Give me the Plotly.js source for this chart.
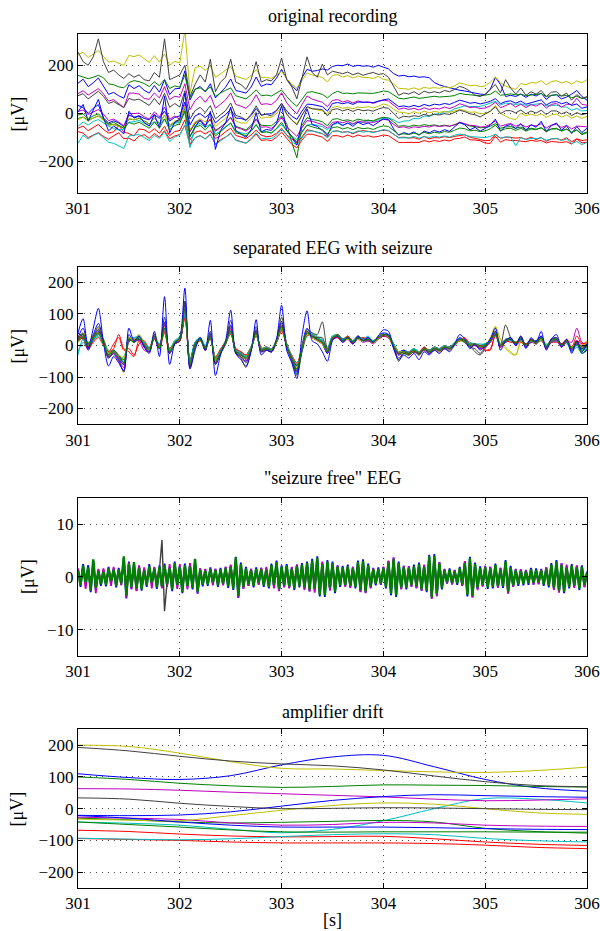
<!DOCTYPE html>
<html>
<head>
<meta charset="utf-8">
<script src="https://cdn.plot.ly/plotly-3.0.1.min.js"></script>
<style>
html,body{margin:0;padding:0;background:#fff;}
#chart{width:600px;height:931px;}
</style>
</head>
<body>
<div id="chart"></div>
<script>
// ---- sampling (start time and sample steps, seconds) ----
const T0 = 301;
const DT_EEG = 0.05;
const DT_FREE = 0.025;
const DT_DRIFT = 0.5;
const xTicks = [301, 302, 303, 304, 305, 306];

const chanNames = ['ch1','ch2','ch3','ch4','ch5','ch6','ch7','ch8','ch9','ch10','ch11','ch12','ch13','ch14','ch15','ch16'];

// ---- panel 1: original recording [µV] ----
const orig01 = [125,142,111,127,147,113,79,87,73,63, 119,103,115,96,84,116,88,139,78,102, 104,177,55,99,112,89,123,64,87,109, 143,95,90,84,109,151,112,122,119,147, 183,143,116,94,148,183,175,178,185,180, 195,200,198,205,195,200,196,198,192,200, 192,185,165,155,158,152,155,150,152,148, 128,118,112,106,100,96,93,90,84,80, 78,100,150,120,70,75,70,80,66,80, 72,84,58,75,77,60,68,80,95,70, 55];
const orig02 = [158,151,144,150,158,148,123,119,110,106, 128,136,132,124,111,131,115,141,103,114, 109,159,65,101,106,93,110,70,85,96, 106,73,66,60,77,98,73,76,72,84, 97,70,47,29,56,87,90,84,79,64, 82,92,83,84,81,85,85,83,83,87, 93,90,78,63,60,63,68,62,65,65, 71,68,68,71,74,83,79,76,73,73, 76,79,93,75,78,81,77,80,73,76, 79,82,70,75,78,72,75,65,71,62, 65];
const orig03 = [-62,-53,-72,-60,-46,-67,-82,-77,-50,-78, -84,-94,-65,-68,-81,-64,-83,-54,-93,-76, -71,-27,-111,-79,-73,-86,-72,-105,-94,-76, -62,-92,-99,-105,-90,-70,-91,-97,-95,-83, -62,-89,-107,-122,-98,-68,-73,-79,-85,-97, -76,-73,-79,-76,-85,-76,-72,-75,-78,-75, -69,-73,-86,-101,-99,-103,-101,-108,-96,-106, -101,-102,-97,-101,-96,-91,-89,-99,-103,-107, -114,-112,-88,-104,-99,-100,-103,-101,-108,-99, -109,-100,-116,-107,-105,-111,-102,-118,-106,-113, -110];
const orig04 = [-54,-36,-49,-34,-26,-41,-53,-63,-69,-67, -37,-35,-29,-42,-51,-34,-47,-23,-57,-42, -37,4,-142,-50,-42,-58,-45,-85,-74,-55, -41,-75,-82,-86,-72,-49,-78,-76,-83,-63, -46,-72,-95,-109,-75,-49,-45,-50,-55,-69, -47,-41,-48,-42,-45,-37,-37,-28,-34,-26, -20,-19,-27,-39,-32,-31,-21,-23,-11,-13, -3,-3,6,7,19,25,31,28,29,29, 35,41,50,34,43,40,37,40,33,36, 39,41,31,32,34,27,26,13,20,10, 12];
const orig05 = [82,94,76,91,103,81,51,57,42,24, 84,84,80,62,58,85,64,111,57,71, 67,123,15,53,71,46,75,21,38,56, 85,37,30,21,41,77,37,40,36,54, 86,44,19,-2,36,72,59,53,46,28, 54,57,47,53,43,52,45,48,41,50, 55,51,33,17,22,16,21,14,23,16, 21,18,26,20,28,40,33,24,26,20, 22,31,46,23,32,41,26,38,24,36, 30,42,22,37,41,26,38,36,63,37, 34];
const orig06 = [245,254,232,247,261,237,213,218,209,199, 241,236,243,226,212,240,213,247,200,216, 210,345,85,190,196,179,197,149,164,180, 195,154,149,141,157,182,149,150,145,161, 175,145,121,105,138,168,159,156,149,131, 158,161,151,157,147,156,149,149,145,154, 141,138,122,104,103,100,106,99,108,104, 107,104,110,106,115,127,121,115,117,111, 114,130,151,128,113,105,100,124,119,128, 126,136,119,132,136,126,133,122,135,127, 140];
const orig07 = [255,215,200,235,310,215,170,180,160,145, 165,150,160,140,135,170,150,310,140,150, 160,200,70,120,160,130,225,90,130,150, 225,130,120,100,140,215,130,140,135,160, 230,140,110,60,150,235,170,150,205,160, 175,170,165,172,160,168,158,165,170,162, 165,150,115,75,85,80,90,78,92,85, 90,85,95,90,100,112,105,92,75,70, 80,100,120,85,140,105,80,105,75,90, 80,95,70,88,90,72,84,55,78,62, 70];
const orig08 = [33,24,0,21,36,-19,-40,-31,-40,-55, -7,-16,-10,-21,-27,-6,-21,9,-32,-17, -11,47,-48,-11,-1,-18,1,-40,-21,-5, 17,-20,-21,-29,-9,20,-8,-3,-2,12, 41,10,-12,-25,9,38,37,33,28,9, 41,45,40,45,37,47,45,46,45,52, 56,60,42,28,31,26,33,27,37,31, 38,35,41,37,46,55,49,42,45,39, 44,50,61,40,49,52,42,51,38,44, 47,56,35,46,49,40,46,33,39,21, 27];
const orig09 = [-21,-16,-28,-20,-11,-27,-48,-46,-52,-62, -23,-27,-21,-31,-44,-21,-42,-7,-50,-38, -30,21,-76,-43,-31,-50,-26,-71,-57,-39, -18,-54,-60,-69,-50,-23,-50,-50,-52,-34, -10,-43,-120,-185,-51,-18,-26,-29,-35,-52, -25,-22,-30,-27,-33,-24,-29,-29,-31,-22, -16,-20,-35,-54,-51,-55,-49,-53,-47,-51, -48,-53,-49,-54,-47,-40,-45,-53,-55,-60, -59,-54,-43,-62,-57,-55,-62,-57,-67,-62, -66,-61,-73,-65,-65,-72,-66,-79,-70,-86, -77];
const orig10 = [-76,-82,-101,-89,-80,-96,-108,-93,-81,-106, -103,-115,-95,-89,-104,-84,-99,-72,-106,-94, -88,-50,-128,-102,-93,-106,-88,-128,-110,-99, -84,-111,-118,-124,-109,-86,-113,-110,-114,-99, -78,-105,-129,-144,-111,-87,-87,-93,-99,-117, -93,-93,-99,-90,-99,-90,-96,-93,-99,-96, -90,-93,-108,-121,-121,-121,-118,-121,-113,-119, -113,-117,-111,-115,-106,-104,-98,-110,-111,-114, -124,-125,-95,-120,-109,-113,-113,-114,-118,-112, -116,-113,-123,-117,-118,-121,-118,-128,-107,-123, -120];
const orig11 = [-125,-91,-107,-92,-83,-102,-120,-125,-135,-146, -94,-91,-88,-101,-113,-92,-104,-77,-117,-99, -90,-48,-137,-101,-92,-107,-85,-130,-115,-99, -81,-113,-119,-124,-105,-81,-107,-103,-105,-90, -65,-94,-118,-132,-105,-74,-73,-79,-84,-102, -74,-74,-79,-76,-82,-73,-78,-75,-80,-74, -68,-71,-86,-102,-102,-102,-96,-103,-97,-100, -95,-99,-94,-99,-91,-86,-90,-97,-98,-100, -101,-96,-87,-103,-98,-99,-135,-100,-110,-104, -105,-102,-112,-106,-104,-113,-107,-126,-117,-130, -121];
const orig12 = [8,14,-5,7,16,-3,-30,-24,-36,-52, -1,-1,1,-14,-24,6,-15,26,-25,-11, -25,34,-75,-37,-26,-49,-23,-75,-58,-41, -15,-58,-64,-74,-57,-25,-58,-56,-63,-45, -16,-55,-76,-96,-60,-30,-33,-39,-47,-62, -38,-34,-39,-33,-44,-32,-37,-36,-38,-32, -25,-28,-46,-59,-56,-62,-56,-59,-54,-57, -51,-55,-52,-53,-48,-37,-43,-50,-51,-57, -55,-46,-32,-53,-47,-42,-54,-45,-57,-49, -52,-43,-61,-49,-46,-59,-50,-65,-53,-56, -56];
const orig13 = [-27,-15,-34,-19,-10,-29,-50,-47,-53,-60, -21,-27,-18,-34,-46,-19,-40,-7,-50,-32, -26,30,-68,-36,-23,-36,-13,-54,-37,-21, 5,-32,-40,-41,-21,7,-21,-16,-17,-1, 28,-4,-29,-43,-5,24,19,15,10,-3, 25,29,21,24,19,26,24,28,22,29, 39,33,17,5,4,-2,7,0,9,2, 8,4,8,4,11,16,12,4,6,-2, 0,8,33,-1,-11,-22,-26,0,-10,-3, -10,-2,-17,-6,-3,-16,-7,-20,-11,-21, -12];
const orig14 = [73,82,60,78,92,71,41,49,37,24, 62,55,59,46,33,62,36,83,25,41, 26,94,-24,11,25,3,32,-23,-6,11, 43,-9,-15,-28,-5,31,-6,-4,-11,10, 42,-3,-27,-48,-9,28,19,16,16,-11, 16,19,10,17,8,17,11,14,9,18, 24,21,0,-21,-12,-15,-10,-13,-4,-10, -4,-7,-1,-5,4,13,7,-2,-6,-15, -3,9,27,-1,11,11,2,14,-2,10, 1,13,-5,10,10,-2,6,-9,3,-6, 0];
const orig15 = [6,37,-31,15,58,-19,-73,-53,-67,-85, 9,-20,-11,-38,-53,-4,-62,71,-82,-37, -24,84,-97,-56,-28,-58,8,-150,-71,-40, 26,-71,-85,-100,-68,2,-77,-67,-71,-43, 32,-69,-97,-132,-37,19,-47,-54,-72,-93, -47,-37,-51,-40,-54,-37,-47,-40,-51,-37, -23,-26,-65,-91,-80,-87,-77,-91,-74,-81, -71,-78,-68,-75,-57,-37,-48,-69,-58,-74, -63,-49,-24,-74,-53,-46,-64,-43,-72,-47, -58,-33,-76,-51,-40,-70,-52,-84,-55,-80, -62];
const orig16 = [-7,-2,-24,-10,-2,-23,-45,-37,-50,-62, -38,-45,-37,-49,-62,-36,-61,-23,-68,-51, -43,10,-96,-58,-50,-69,-48,-94,-77,-60, -40,-80,-86,-93,-75,-46,-80,-77,-81,-63, -37,-73,-97,-118,-79,-49,-56,-62,-68,-86, -59,-56,-65,-59,-68,-59,-64,-61,-67,-58, -52,-55,-73,-88,-85,-88,-82,-88,-79,-85, -79,-82,-76,-79,-70,-61,-64,-73,-70,-76, -73,-64,-49,-73,-64,-62,-71,-62,-74,-65, -68,-59,-77,-65,-62,-74,-65,-80,-68,-89, -80];

// ---- panel 2: separated EEG with seizure [µV] ----
const sep01 = [25,55,5,35,70,15,-40,-25,-45,-60, 35,10,30,0,-20,35,-10,75,-25,15, 20,140,-65,5,25,-15,40,-60,-25,10, 65,-20,-35,-50,-15,50,-20,-10,-20,20, 75,5,-45,-85,0,55,25,20,5,-25, 30,30,20,30,15,30,20,25,10,30, 40,35,-5,-30,-25,-30,-20,-30,-15,-25, -15,-20,-10,-15,5,25,15,0,5,-5, 0,20,45,-5,15,25,5,25,-5,20, 10,30,-10,20,25,0,15,-15,15,-10, 0];
const sep02 = [30,20,10,20,35,20,-20,-25,-40,-45, 10,25,20,10,-10,25,0,45,-15,5, 15,100,-55,5,15,-5,25,-40,-15,5, 40,-15,-25,-35,-5,30,-10,-5,-10,10, 50,5,-35,-65,-20,30,35,25,15,-10, 20,35,20,20,15,20,20,15,15,20, 30,25,5,-20,-25,-20,-10,-20,-15,-15, -5,-10,-10,-5,0,15,10,5,0,0, 5,10,35,5,10,15,10,15,5,10, 15,20,0,10,15,5,10,-5,5,-10, -5];
const sep03 = [10,25,-5,15,40,5,-20,-10,35,-10, -20,-35,15,10,-10,20,-10,40,-25,5, 15,90,-50,5,15,-5,20,-35,-15,15, 40,-10,-20,-30,-5,30,-5,-15,-10,10, 45,0,-30,-55,-15,35,25,15,5,-15, 20,25,15,20,5,20,25,20,15,20, 30,25,5,-20,-15,-20,-15,-25,-5,-20, -10,-10,0,-5,5,15,20,5,0,-5, -15,-10,30,5,15,15,10,15,5,20, 5,20,-5,10,15,5,20,-5,15,5, 10];
const sep04 = [-20,10,-10,15,30,5,-15,-30,-40,-35, 15,20,30,10,-5,25,5,45,-10,15, 25,95,-45,10,25,0,25,-40,-20,15, 40,-15,-25,-30,-5,35,-10,-5,-15,20, 50,5,-35,-60,-5,35,40,30,20,-5, 30,35,20,25,15,25,20,30,15,25, 30,25,5,-20,-15,-20,-10,-20,-5,-15, -5,-10,0,-5,10,15,20,10,5,0, 5,15,30,5,20,15,10,15,5,10, 15,20,5,10,15,5,5,-15,0,-15, -10];
const sep05 = [15,35,5,30,50,15,-35,-25,-50,-80, 20,20,15,-15,-20,25,-10,70,-20,5, 15,110,-70,-5,25,-15,35,-55,-25,5, 55,-25,-35,-50,-15,45,-20,-15,-20,10, 65,-5,-45,-80,-15,45,25,15,5,-25, 20,25,10,20,5,20,10,15,5,20, 30,25,-5,-30,-20,-30,-20,-30,-15,-25, -15,-20,-5,-15,0,20,10,-5,0,-10, -5,10,35,-5,10,25,0,20,-5,15, 5,25,-10,15,20,-5,15,10,55,10, 5];
const sep06 = [25,40,5,30,55,15,-25,-15,-30,-45, 25,20,35,10,-10,40,0,60,-15,15, 25,115,-55,5,20,-5,30,-45,-15,15, 45,-20,-25,-35,-5,40,-10,-5,-10,20, 55,5,-35,-60,-5,45,30,25,15,-15, 30,35,20,30,15,30,20,20,15,30, 35,30,5,-25,-25,-30,-20,-30,-15,-20, -15,-20,-10,-15,0,20,10,0,5,-5, 0,25,60,20,-5,-20,-30,10,0,15, 10,25,-5,15,20,0,10,-10,10,-5, 15];
const sep07 = [20,40,0,30,60,10,-40,-25,-45,-85, 25,15,20,0,-20,30,-10,90,-25,10, 20,140,-70,-5,20,-15,45,-60,-25,10, 80,-25,-40,-70,-15,60,-20,-15,-20,15, 90,0,-50,-95,-20,50,40,35,75,-10, 25,35,20,25,10,25,15,20,10,25, 35,30,-5,-50,-25,-30,-15,-30,-10,-25, -10,-15,-5,-10,5,20,15,0,-20,-30, -10,20,40,0,65,25,5,30,0,20, 10,25,-5,20,25,0,15,-20,10,-10, 5];
const sep08 = [40,25,-15,20,45,5,-30,-15,-30,-55, 25,10,20,0,-10,25,0,50,-20,5, 15,110,-50,10,25,-5,25,-45,-15,10, 45,-20,-25,-40,-10,35,-15,-10,-10,10, 55,0,-40,-65,-10,35,30,20,10,-25, 25,30,20,25,10,25,20,20,15,25, 30,35,5,-20,-15,-25,-15,-25,-10,-20, -10,-15,-5,-10,5,20,10,0,5,-5, 5,15,35,0,15,20,5,20,0,10, 15,30,-5,15,20,5,15,-5,5,-25, -15];
const sep09 = [15,25,5,20,35,10,-25,-20,-30,-45, 20,15,25,10,-10,30,-5,55,-15,5, 20,105,-55,0,20,-10,30,-45,-20,10, 45,-15,-25,-40,-10,35,-10,-10,-15,15, 55,0,-40,-90,-15,40,25,20,10,-20, 25,30,15,20,10,25,15,15,10,25, 35,30,5,-25,-20,-25,-15,-20,-10,-15, -10,-15,-5,-10,5,20,15,5,5,0, 5,15,35,5,15,20,10,20,5,15, 10,20,0,15,15,5,15,-5,10,-15, 0];
const sep10 = [30,20,-10,10,25,0,-20,5,25,-15, -10,-30,5,15,-10,25,0,45,-10,10, 20,85,-45,0,15,-5,25,-40,-10,10, 35,-10,-20,-30,-5,35,-10,-5,-10,15, 50,5,-35,-60,-5,35,35,25,15,-15, 25,25,15,30,15,30,20,25,15,20, 30,25,0,-20,-20,-20,-15,-20,-5,-15, -5,-10,0,-5,10,15,25,5,5,0, -15,-15,35,-5,15,10,10,10,5,15, 10,15,0,10,10,5,10,-5,30,5, 10];
const sep11 = [-30,20,-5,20,35,5,-25,-25,-40,-50, 20,25,30,10,-10,25,5,50,-15,15, 30,100,-50,10,25,0,35,-40,-15,10, 40,-15,-25,-35,-5,35,-10,-5,-10,15, 55,5,-35,-60,-15,35,35,25,15,-15, 30,30,20,25,15,30,20,25,15,25, 35,30,5,-20,-20,-20,-10,-20,-10,-15, -5,-10,0,-5,10,20,15,5,5,5, 5,15,30,5,15,15,5,15,0,10, 10,15,0,10,15,0,10,-20,-5,-25, -10];
const sep12 = [25,35,5,25,40,10,-35,-25,-45,-70, 15,15,20,-5,-20,30,-5,65,-20,5, 15,115,-65,0,20,-15,30,-55,-25,5, 50,-20,-30,-45,-15,40,-15,-10,-20,10, 60,-5,-40,-75,-15,35,30,20,5,-20, 20,25,15,25,5,25,15,15,10,20, 30,25,-5,-25,-20,-30,-20,-25,-15,-20, -10,-15,-10,-10,0,20,10,0,0,-10, -5,10,35,0,10,20,0,15,-5,10, 5,20,-10,10,15,-5,10,-15,5,0, 0];
const sep13 = [10,30,0,25,40,10,-25,-20,-30,-40, 25,15,30,5,-15,30,-5,50,-20,10, 20,110,-55,-5,15,-10,25,-45,-20,5, 45,-20,-35,-40,-10,35,-15,-10,-15,10, 55,0,-45,-70,-10,35,25,15,5,-20, 25,30,15,20,10,20,15,20,10,20, 35,25,0,-20,-20,-30,-15,-25,-10,-20, -10,-15,-5,-10,5,15,10,0,5,-5, 0,15,60,5,-10,-25,-30,15,0,15, 5,20,-5,15,20,0,15,-5,10,-5, 10];
const sep14 = [15,30,-5,25,50,15,-35,-20,-40,-60, 20,10,20,0,-20,30,-10,70,-25,5, 15,130,-65,-5,20,-15,35,-55,-25,5, 60,-25,-35,-55,-15,45,-15,-10,-20,15, 70,-5,-45,-80,-15,45,30,25,25,-20, 25,30,15,25,10,25,15,20,10,25, 35,30,-5,-40,-25,-30,-20,-25,-10,-20, -10,-15,-5,-10,5,20,10,-5,-10,-25, -5,15,45,0,20,20,5,25,0,20, 5,25,-5,20,20,0,15,-10,10,-5, 5];
const sep15 = [40,85,-10,55,118,10,-65,-35,-55,-80, 55,15,30,-5,-25,45,-35,155,-60,5, 25,182,-75,-15,25,-15,80,-95,-30,15, 112,-25,-45,-65,-20,82,-30,-15,-20,20, 128,-15,-55,-105,30,110,15,5,-20,-50, 15,30,10,25,5,30,15,25,10,30, 50,45,-10,-45,-30,-40,-25,-45,-20,-30, -15,-25,-10,-20,5,35,20,-10,5,-15, 0,20,55,-15,15,25,0,30,-10,25, 10,45,-15,20,35,-5,20,-25,15,-20, 5];
const sep16 = [25,35,0,25,40,5,-30,-15,-35,-55, 20,10,25,5,-15,30,-10,55,-20,10, 25,115,-60,5,20,-10,25,-50,-20,10, 45,-20,-30,-40,-10,40,-15,-10,-15,15, 60,0,-40,-75,-10,40,30,20,10,-20, 25,30,15,25,10,25,15,20,10,25, 35,30,0,-25,-20,-25,-15,-25,-10,-20, -10,-15,-5,-10,5,20,15,0,5,-5, 0,15,40,0,15,20,5,20,0,15, 10,25,-5,15,20,0,15,-10,10,-25, -10];

// ---- panel 3: "seizure free" EEG [µV] (channels drawn: 1, 5, 7, 16) ----
const free01 = [1.5,-1.9,2.4,-1.4,2.2,-2.9,3.0,-2.5, 1.3,-1.7,1.2,-1.8,1.9,-1.1,1.6,-2.0, 1.7,-1.5,3.6,-4.1,2.9,-2.3,2.5,-2.6, 2.1,-2.6,1.5,-1.9,2.4,-1.4,1.8,-2.3, 2.2,-2.1,2.5,-1.6,1.9,-2.7,2.9,-1.8, 2.1,-3.1,2.5,-2.0,2.3,-2.4,3.0,-3.2, 1.6,-1.8,1.4,-1.7,1.8,-1.3,1.5,-1.9, 1.7,-1.5,1.9,-2.1,2.2,-2.5,3.8,-4.0, 2.7,-2.2,1.9,-1.7,1.5,-2.0,1.8,-1.4, 1.7,-1.9,1.6,-2.2,2.5,-1.8,3.1,-2.6, 2.2,-1.9,2.4,-2.1,1.8,-2.5,2.3,-2.0, 2.6,-2.3,2.9,-2.7,3.4,-2.5,3.9,-3.7, 2.7,-3.8,3.2,-2.4,2.9,-3.1,2.2,-1.9, 2.1,-1.8,2.3,-2.0,1.9,-2.2,3.1,-2.8, 3.3,-3.0,2.5,-2.1,1.7,-1.6,1.8,-1.5, 1.9,-2.2,3.0,-3.5,3.6,-3.8,2.9,-2.3, 2.1,-2.4,2.0,-1.8,2.3,-2.1,2.7,-2.6, 2.2,-2.9,4.2,-4.1,4.3,-3.5,2.8,-2.4, 1.5,-1.3,1.6,-1.4,1.3,-1.5,1.9,-1.7, 2.9,-3.7,3.8,-3.9,2.7,-2.3,2.0,-1.8, 2.1,-2.3,1.9,-2.2,2.5,-2.0,1.7,-2.1, 3.2,-3.1,2.1,-1.9,1.5,-1.7,1.4,-1.6, 1.3,-1.5,1.7,-1.4,1.6,-1.3,1.5,-1.7, 1.8,-2.0,2.6,-2.4,3.2,-2.9,2.5,-3.1, 2.0,-2.2,2.4,-1.9,2.1,-2.5,2.2,-1.8, 1.0];
const free05 = [1.6,-1.3,1.9,-2.3,1.4,-2.0,2.8,-3.1, 1.5,-1.2,1.6,-1.0,1.2,-1.7,1.9,-1.1, 1.3,-1.6,3.2,-3.9,2.7,-2.4,2.0,-2.7, 2.2,-1.5,1.8,-1.3,1.6,-2.2,1.9,-1.4, 1.5,-2.2,1.8,-1.9,2.4,-1.6,2.0,-2.3, 2.4,-2.2,1.9,-2.4,2.6,-1.8,2.9,-3.1, 1.6,-1.2,1.5,-1.1,1.3,-1.6,1.5,-1.2, 1.1,-1.6,1.9,-1.4,2.3,-1.9,3.2,-3.9, 2.0,-2.3,1.3,-1.7,1.5,-1.2,1.3,-1.5, 1.7,-1.3,1.9,-1.5,1.7,-2.2,2.4,-2.7, 1.6,-2.0,1.7,-2.2,1.9,-1.8,2.3,-1.5, 2.0,-2.5,2.2,-2.8,2.6,-3.0,3.3,-3.0, 2.9,-3.0,2.4,-2.6,2.2,-2.3,2.1,-1.4, 1.5,-1.9,1.7,-2.1,1.9,-1.5,2.5,-2.9, 2.7,-3.1,1.9,-2.2,1.6,-1.1,1.3,-1.4, 1.9,-1.5,3.1,-2.8,3.7,-3.1,2.2,-2.4, 2.1,-1.7,2.0,-1.9,1.6,-2.2,2.0,-2.6, 2.3,-2.0,3.4,-4.2,3.6,-3.7,2.8,-1.8, 1.4,-1.2,1.0,-1.4,1.2,-1.0,1.3,-1.7, 3.0,-2.8,3.2,-3.9,2.0,-2.5,1.5,-1.8, 2.0,-1.7,1.9,-1.6,1.8,-2.1,1.7,-1.5, 2.5,-3.2,1.5,-1.9,1.4,-1.1,1.4,-1.0, 1.2,-1.0,1.1,-1.5,1.0,-1.4,1.4,-1.1, 1.8,-1.4,2.0,-2.5,2.5,-3.0,2.6,-2.3, 2.3,-1.5,1.8,-2.1,2.2,-1.6,1.6,-2.0, 0.5];
const free07 = [1.0,-1.2,1.5,-0.9,1.3,-1.8,2.2,-1.6, 0.9,-1.1,0.8,-1.2,1.2,-0.7,1.0,-1.3, 1.1,-0.9,2.8,-2.6,1.9,-1.4,2.0,-1.6, 1.3,-1.8,0.9,-1.2,1.5,-0.9,1.1,-1.5, 1.4,7.0,-6.5,-1.0,1.2,-1.8,1.9,-1.1, 1.3,-2.1,1.6,-1.3,1.5,-1.6,2.5,-2.1, 1.0,-1.1,0.8,-1.1,1.1,-0.8,0.9,-1.2, 1.0,-0.9,1.2,-1.3,1.4,-1.6,2.7,-2.6, 1.8,-1.4,1.2,-1.0,0.9,-1.3,1.1,-0.8, 1.0,-1.2,1.0,-1.4,1.6,-1.1,2.1,-1.7, 1.4,-1.2,1.6,-1.3,1.1,-1.6,1.5,-1.3, 1.7,-1.5,1.9,-1.8,2.3,-1.6,2.6,-2.5, 1.8,-2.6,2.1,-1.5,1.9,-2.1,1.4,-1.2, 1.3,-1.1,1.5,-1.3,1.2,-1.4,2.1,-1.9, 2.2,-2.0,1.6,-1.3,1.0,-1.0,1.1,-0.9, 1.2,-1.4,2.0,-2.4,2.5,-2.6,1.9,-1.5, 1.3,-1.6,1.3,-1.1,1.5,-1.3,1.8,-1.7, 1.4,-1.9,2.9,-2.8,3.0,-2.4,1.8,-1.6, 0.9,-0.8,1.0,-0.8,0.8,-0.9,1.2,-1.0, 1.9,-2.5,2.6,-2.7,1.8,-1.5,1.3,-1.1, 1.3,-1.5,1.2,-1.4,1.6,-1.3,1.0,-1.3, 2.1,-2.0,1.3,-1.2,0.9,-1.0,0.8,-1.0, 0.8,-0.9,1.0,-0.8,1.0,-0.8,0.9,-1.0, 1.1,-1.3,1.7,-1.6,2.1,-1.9,1.6,-2.1, 1.3,-1.4,1.6,-1.2,1.3,-1.6,1.4,-1.1, 0.6];
const free16 = [1.2,-1.6,2.1,-1.0,1.8,-2.6,3.3,-2.1, 1.1,-1.4,0.9,-1.5,1.6,-0.8,1.3,-1.7, 1.4,-1.2,3.9,-3.5,2.5,-1.9,2.8,-2.2, 1.7,-2.3,1.2,-1.6,2.0,-1.1,1.5,-2.0, 1.9,-1.8,2.2,-1.3,1.6,-2.4,2.6,-1.5, 1.8,-2.9,2.2,-1.7,2.0,-2.1,3.4,-2.8, 1.3,-1.5,1.1,-1.4,1.5,-1.0,1.2,-1.6, 1.4,-1.2,1.6,-1.8,1.9,-2.2,3.7,-3.6, 2.4,-1.9,1.6,-1.4,1.2,-1.7,1.5,-1.1, 1.4,-1.6,1.3,-1.9,2.2,-1.5,2.8,-2.3, 1.9,-1.6,2.1,-1.8,1.5,-2.2,2.0,-1.7, 2.3,-2.0,2.6,-2.4,3.1,-2.2,3.6,-3.4, 2.4,-3.5,2.9,-2.1,2.6,-2.8,1.9,-1.6, 1.8,-1.5,2.0,-1.7,1.6,-1.9,2.8,-2.5, 3.0,-2.7,2.2,-1.8,1.4,-1.3,1.5,-1.2, 1.6,-1.9,2.7,-3.2,3.3,-3.5,2.6,-2.0, 1.8,-2.1,1.7,-1.5,2.0,-1.8,2.4,-2.3, 1.9,-2.6,3.9,-3.8,4.0,-3.2,2.5,-2.1, 1.2,-1.0,1.3,-1.1,1.0,-1.2,1.6,-1.4, 2.6,-3.4,3.5,-3.6,2.4,-2.0,1.7,-1.5, 1.8,-2.0,1.6,-1.9,2.2,-1.7,1.4,-1.8, 2.9,-2.8,1.8,-1.6,1.2,-1.4,1.1,-1.3, 1.0,-1.2,1.4,-1.1,1.3,-1.0,1.2,-1.4, 1.5,-1.7,2.3,-2.1,2.9,-2.6,2.2,-2.8, 1.7,-1.9,2.1,-1.6,1.8,-2.2,1.9,-1.5, 0.8];

// ---- panel 4: amplifier drift [µV], one value every 0.5 s ----
const drift01 = [110,98,92,104,138,163,168,132,92,66,55];
const drift02 = [100,92,80,72,67,70,75,74,73,70,68];
const drift03 = [-68,-72,-80,-86,-89,-88,-87,-95,-105,-112,-116];
const drift04 = [-42,-46,-52,-65,-76,-65,-38,0,32,30,18];
const drift05 = [63,62,58,52,47,42,37,30,25,27,31];
const drift06 = [200,196,175,148,127,125,120,116,114,120,131];
const drift07 = [193,182,165,150,141,135,122,103,85,73,69];
const drift08 = [-21,-22,-20,-10,8,26,38,44,41,38,36];
const drift09 = [-30,-35,-42,-45,-43,-40,-37,-42,-62,-72,-77];
const drift10 = [-94,-97,-100,-105,-108,-108,-108,-110,-115,-122,-126];
const drift11 = [-93,-96,-98,-95,-88,-82,-79,-82,-94,-101,-105];
const drift12 = [-27,-30,-34,-45,-52,-50,-43,-45,-52,-55,-56];
const drift13 = [-33,-36,-38,-22,-5,10,18,14,0,-13,-18];
const drift14 = [34,30,17,7,0,1,3,2,0,-2,-3];
const drift15 = [-22,-30,-42,-52,-58,-58,-58,-60,-63,-65,-66];
const drift16 = [-42,-50,-58,-67,-73,-74,-73,-73,-73,-74,-74];

// ---- styles ----
const cB='#0000ff', cG='#008000', cR='#ff0000', cC='#00bfbf', cM='#bf00bf', cY='#bfbf00', cK='#404040';
const chanColors = [cB,cG,cR,cC,cM,cY,cK,cB,cG,cR,cC,cM,cY,cK,cB,cG];
const FONT = '"Liberation Serif", "DejaVu Serif", "Times New Roman", serif';

const origSet = [orig01,orig02,orig03,orig04,orig05,orig06,orig07,orig08,orig09,orig10,orig11,orig12,orig13,orig14,orig15,orig16];
const sepSet = [sep01,sep02,sep03,sep04,sep05,sep06,sep07,sep08,sep09,sep10,sep11,sep12,sep13,sep14,sep15,sep16];
const driftSet = [drift01,drift02,drift03,drift04,drift05,drift06,drift07,drift08,drift09,drift10,drift11,drift12,drift13,drift14,drift15,drift16];
const freeSet = [[0, free01, 1.8],[4, free05, 1.8],[6, free07, 1.4],[15, free16, 2.4]];

const traces = [];
origSet.forEach((y, k) => traces.push({type:'scatter', mode:'lines', name:chanNames[k], x0:T0, dx:DT_EEG, y:y, xaxis:'x', yaxis:'y', line:{color:chanColors[k], width:1}, hoverinfo:'skip'}));
sepSet.forEach((y, k) => traces.push({type:'scatter', mode:'lines', name:chanNames[k], x0:T0, dx:DT_EEG, y:y, xaxis:'x2', yaxis:'y2', line:{color:chanColors[k], width:1, shape:'spline', smoothing:0.8}, hoverinfo:'skip'}));
freeSet.forEach(([k, y, w]) => traces.push({type:'scatter', mode:'lines', name:chanNames[k], x0:T0, dx:DT_FREE, y:y, xaxis:'x3', yaxis:'y3', line:{color:chanColors[k], width:w}, hoverinfo:'skip'}));
driftSet.forEach((y, k) => traces.push({type:'scatter', mode:'lines', name:chanNames[k], x0:T0, dx:DT_DRIFT, y:y, xaxis:'x4', yaxis:'y4', line:{color:chanColors[k], width:1, shape:'spline'}, hoverinfo:'skip'}));

const tickFont = {family:FONT, size:17, color:'#000'};
function xAx(anchor){
  return {domain:[0,1], anchor:anchor, range:[301,306], tickmode:'array', tickvals:xTicks,
    ticks:'inside', ticklen:5, tickcolor:'#000', showline:true, linecolor:'#000', linewidth:1, mirror:'ticks',
    showgrid:true, gridcolor:'#444', gridwidth:1, griddash:'1px,5px', zeroline:false, tickfont:tickFont, fixedrange:true};
}
function yAx(anchor, dom, rng, vals){
  return {domain:dom, anchor:anchor, range:rng, tickmode:'array', tickvals:vals,
    ticks:'inside', ticklen:5, tickcolor:'#000', showline:true, linecolor:'#000', linewidth:1, mirror:'ticks',
    showgrid:true, gridcolor:'#444', gridwidth:1, griddash:'1px,5px', zeroline:false, tickfont:tickFont, fixedrange:true};
}

const titleFont = {family:FONT, size:18, color:'#000'};
function ann(text, x, y, angle){
  return {text:text, xref:'paper', yref:'paper', x:x, y:y, xanchor:'center', yanchor:'middle', showarrow:false, font:titleFont, textangle:angle||0};
}

const layout = {
  width:600, height:931,
  margin:{l:78, r:13, t:34, b:43},
  paper_bgcolor:'#fff', plot_bgcolor:'#fff',
  showlegend:false,
  font:{family:FONT, size:17, color:'#000'},
  xaxis: xAx('y'),
  yaxis: yAx('x', [0.8142,1], [-330,330], [-200,0,200]),
  xaxis2: xAx('y2'),
  yaxis2: yAx('x2', [0.5430,0.7275], [-250,250], [-200,-100,0,100,200]),
  xaxis3: xAx('y3'),
  yaxis3: yAx('x3', [0.2717,0.4570], [-15,15], [-10,0,10]),
  xaxis4: xAx('y4'),
  yaxis4: yAx('x4', [0,0.1858], [-250,250], [-200,-100,0,100,200]),
  annotations:[
    ann('original recording', 0.5, 1.0211),
    ann('separated EEG with seizure', 0.5, 0.7494),
    ann('"seizure free" EEG', 0.5, 0.4801),
    ann('amplifier drift', 0.5, 0.2061),
    ann('[s]', 0.5, -0.0375),
    ann('[μV]', -0.1179, 0.907, -90),
    ann('[μV]', -0.1179, 0.6352, -90),
    ann('[μV]', -0.0982, 0.3643, -90),
    ann('[μV]', -0.1179, 0.0931, -90)
  ]
};

Plotly.newPlot('chart', traces, layout, {displayModeBar:false, staticPlot:true});
</script>
</body>
</html>
